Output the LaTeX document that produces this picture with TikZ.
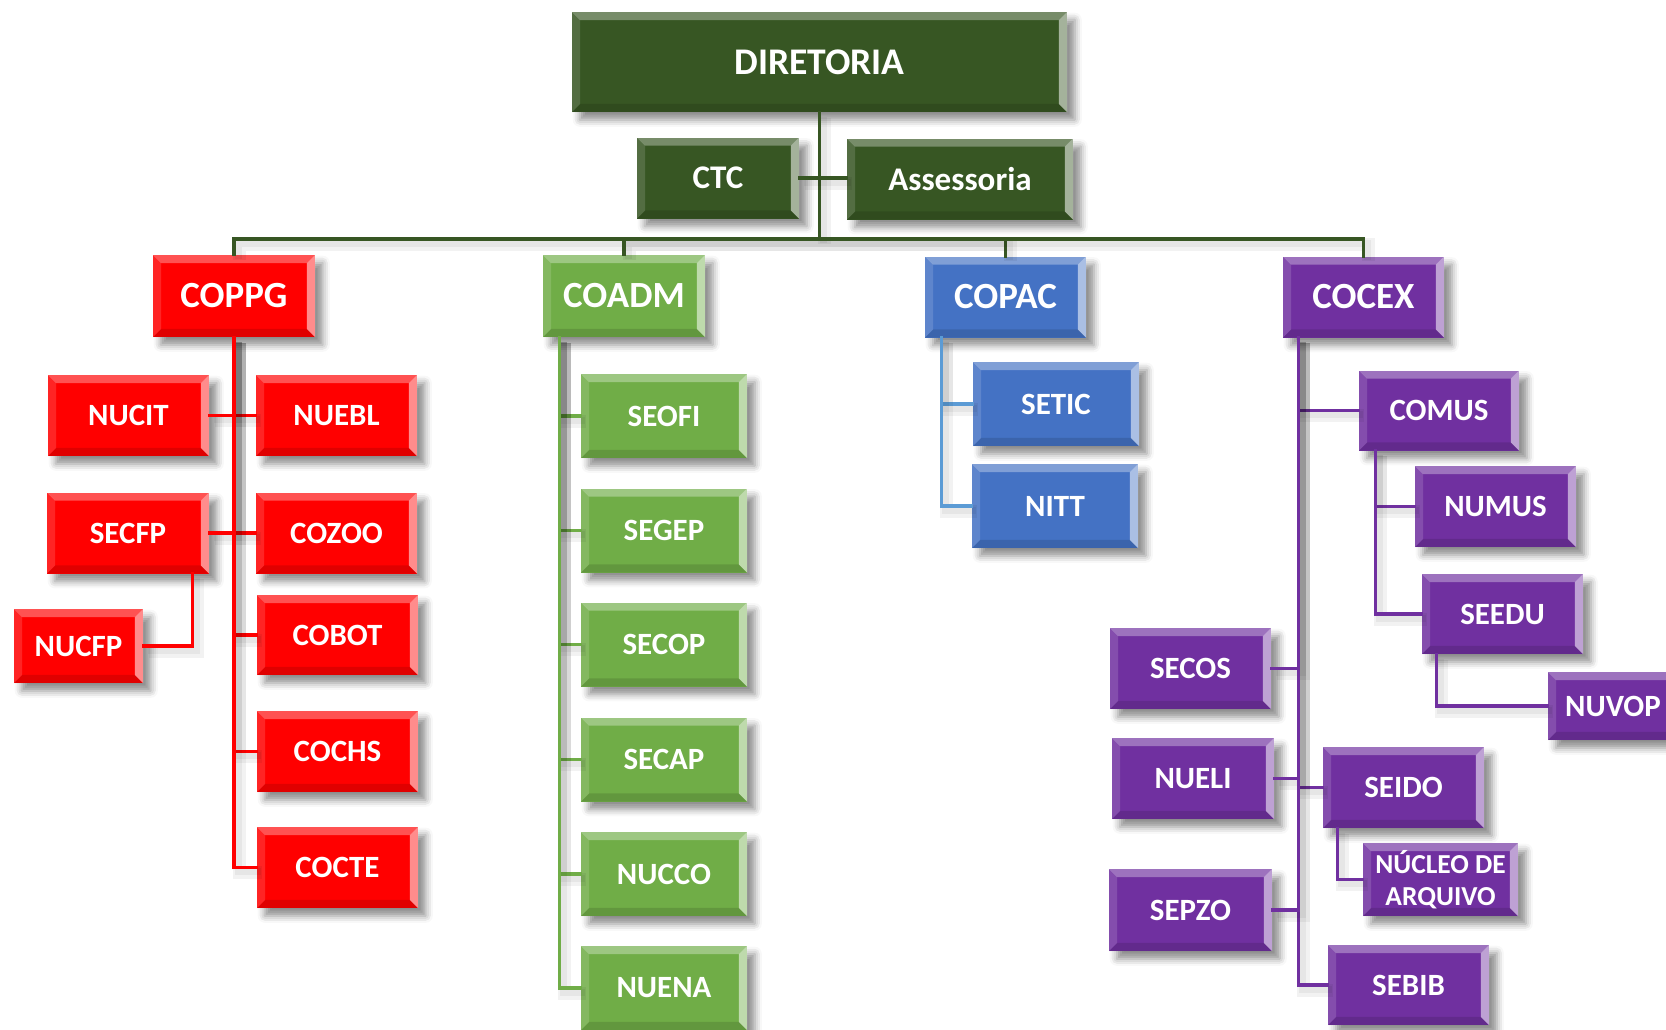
\documentclass[tikz,border=0pt]{standalone}
\usepackage{fontspec}
\setmainfont{Carlito}
\usetikzlibrary{shadows.blur}

\definecolor{dgreen}{HTML}{375623}
\definecolor{lgreen}{HTML}{70AD47}
\definecolor{cblue}{HTML}{4472C4}
\definecolor{lblue}{HTML}{5B9BD5}
\definecolor{cpurple}{HTML}{7030A0}
\definecolor{cred}{HTML}{FF0000}
\newcommand{\bvw}{2.3pt}

\begin{document}
\begin{tikzpicture}[x=0.01cm,y=-0.01cm,
  % bevelled edges drawn inside every box
  bevel/.style={path picture={
    \path (path picture bounding box.north west) coordinate (bvNW)
          (path picture bounding box.north east) coordinate (bvNE)
          (path picture bounding box.south west) coordinate (bvSW)
          (path picture bounding box.south east) coordinate (bvSE);
    \fill[white,opacity=.32] (bvNW) -- (bvNE) -- ([shift={(-\bvw,-\bvw)}]bvNE)
          -- ([shift={(\bvw,-\bvw)}]bvNW) -- cycle;
    \fill[white,opacity=.55] (bvNE) -- (bvSE) -- ([shift={(-\bvw,\bvw)}]bvSE)
          -- ([shift={(-\bvw,-\bvw)}]bvNE) -- cycle;
    \fill[white,opacity=.14] (bvNW) -- ([shift={(\bvw,-\bvw)}]bvNW)
          -- ([shift={(\bvw,\bvw)}]bvSW) -- (bvSW) -- cycle;
    \fill[black,opacity=.12] (bvSW) -- (bvSE) -- ([shift={(-\bvw,\bvw)}]bvSE)
          -- ([shift={(\bvw,\bvw)}]bvSW) -- cycle;
  }},
  unit/.style={fill=#1, bevel,
    blur shadow={shadow xshift=2.2pt, shadow yshift=-2.2pt,
                 shadow blur radius=2pt, shadow opacity=45},
    text=white, inner sep=0pt, align=center,
    font=\bfseries\fontsize{8.8}{10}\selectfont},
  sz/.style 2 args={minimum width=#1*0.01cm, minimum height=#2*0.01cm},
  big/.style={font=\bfseries\fontsize{10.5}{12}\selectfont},
  mid/.style={font=\bfseries\fontsize{9.4}{11}\selectfont},
  % connector with a soft shadow to the lower right
  link/.style={draw=#1, line width=1pt, line cap=rect,
    preaction={draw=black, draw opacity=.05, line width=3.6pt,
               transform canvas={xshift=1.5pt,yshift=-1.5pt}},
    preaction={draw=black, draw opacity=.05, line width=2pt,
               transform canvas={xshift=1.2pt,yshift=-1.2pt}}},
]
\useasboundingbox (0,0) rectangle (1666,1029);

% ---------- top level ----------
\node[unit=dgreen, sz={495}{100}, font=\bfseries\fontsize{10.7}{12}\selectfont] (dir) at (819.5,62) {DIRETORIA};
\node[unit=dgreen, sz={162}{81}, mid] (ctc)  at (718,178) {CTC};
\node[unit=dgreen, sz={226}{81}, mid] (asse) at (960,179) {Assessoria};

% ---------- coordinations ----------
\node[unit=cred,    sz={162}{82}, big] (coppg) at (234,296)    {COPPG};
\node[unit=lgreen,  sz={162}{82}, big] (coadm) at (624,296)    {COADM};
\node[unit=cblue,   sz={161}{81}, big] (copac) at (1005.5,297) {COPAC};
\node[unit=cpurple, sz={161}{81}, big] (cocex) at (1363.5,297) {COCEX};

% ---------- COPPG ----------
\node[unit=cred, sz={161}{81}] (nucit) at (128.5,415.5) {NUCIT};
\node[unit=cred, sz={161}{81}] (nuebl) at (336.5,415.5) {NUEBL};
\node[unit=cred, sz={162}{81}] (secfp) at (128,533)     {SECFP};
\node[unit=cred, sz={161}{81}] (cozoo) at (336.5,533)   {COZOO};
\node[unit=cred, sz={129}{74}] (nucfp) at (78.5,646)    {NUCFP};
\node[unit=cred, sz={161}{80}] (cobot) at (337.5,635)   {COBOT};
\node[unit=cred, sz={161}{81}] (cochs) at (337.5,751.5) {COCHS};
\node[unit=cred, sz={161}{81}] (cocte) at (337.5,867.5) {COCTE};

% ---------- COADM ----------
\node[unit=lgreen, sz={166}{84}] (seofi) at (664,416)   {SEOFI};
\node[unit=lgreen, sz={166}{84}] (segep) at (664,530.5) {SEGEP};
\node[unit=lgreen, sz={166}{84}] (secop) at (664,644.5) {SECOP};
\node[unit=lgreen, sz={166}{84}] (secap) at (664,759.5) {SECAP};
\node[unit=lgreen, sz={166}{84}] (nucco) at (664,874)   {NUCCO};
\node[unit=lgreen, sz={166}{84}] (nuena) at (664,988)   {NUENA};

% ---------- COPAC ----------
\node[unit=cblue, sz={166}{84}] (setic) at (1056,404) {SETIC};
\node[unit=cblue, sz={166}{84}] (nitt)  at (1055,506) {NITT};

% ---------- COCEX ----------
\node[unit=cpurple, sz={160}{80}] (comus) at (1439,410.5)   {COMUS};
\node[unit=cpurple, sz={161}{81}] (numus) at (1495.5,506.5) {NUMUS};
\node[unit=cpurple, sz={161}{80}] (seedu) at (1502.5,614)   {SEEDU};
\node[unit=cpurple, sz={130}{68}] (nuvop) at (1613,706)     {NUVOP};
\node[unit=cpurple, sz={161}{81}] (secos) at (1190.5,668.5) {SECOS};
\node[unit=cpurple, sz={162}{81}] (nueli) at (1193,778.5)   {NUELI};
\node[unit=cpurple, sz={161}{81}] (seido) at (1403.5,787.5) {SEIDO};
\node[unit=cpurple, sz={155}{73}, font=\bfseries\fontsize{7.8}{9.2}\selectfont]
      (nucleo) at (1440.5,879.5) {NÚCLEO DE\\ARQUIVO};
\node[unit=cpurple, sz={163}{82}] (sepzo) at (1190.5,910)   {SEPZO};
\node[unit=cpurple, sz={161}{80}] (sebib) at (1408.5,985)   {SEBIB};

% ---------- connectors: direction ----------
\coordinate (bus) at (819.5,239);
\draw[link=dgreen] (dir.south) -- (bus);
\draw[link=dgreen] (ctc.east) -- (ctc.east -| asse.west);
\draw[link=dgreen] (coppg.north) |- (bus);
\draw[link=dgreen] (coadm.north) |- (bus);
\draw[link=dgreen] (copac.north) |- (bus);
\draw[link=dgreen] (cocex.north) |- (bus);

% ---------- connectors: COPPG ----------
\foreach \n in {nucit,secfp}
  \draw[link=cred] (coppg.south) |- (\n.east);
\foreach \n in {nuebl,cozoo,cobot,cochs,cocte}
  \draw[link=cred] (coppg.south) |- (\n.west);
\draw[link=cred] ([xshift=-0.17cm]secfp.south east) |- (nucfp.east);

% ---------- connectors: COADM ----------
\foreach \n in {seofi,segep,secop,secap,nucco,nuena}
  \draw[link=lgreen] ([xshift=0.17cm]coadm.south west) |- (\n.west);

% ---------- connectors: COPAC ----------
\foreach \n in {setic,nitt}
  \draw[link=lblue] ([xshift=0.17cm]copac.south west) |- (\n.west);

% ---------- connectors: COCEX ----------
\foreach \n in {comus,seido,sebib}
  \draw[link=cpurple] ([xshift=0.16cm]cocex.south west) |- (\n.west);
\foreach \n in {secos,nueli,sepzo}
  \draw[link=cpurple] ([xshift=0.16cm]cocex.south west) |- (\n.east);
\foreach \n in {numus,seedu}
  \draw[link=cpurple] ([xshift=0.17cm]comus.south west) |- (\n.west);
\draw[link=cpurple] ([xshift=0.15cm]seedu.south west) |- (nuvop.west);
\draw[link=cpurple] ([xshift=0.15cm]seido.south west) |- (nucleo.west);
\end{tikzpicture}
\end{document}
